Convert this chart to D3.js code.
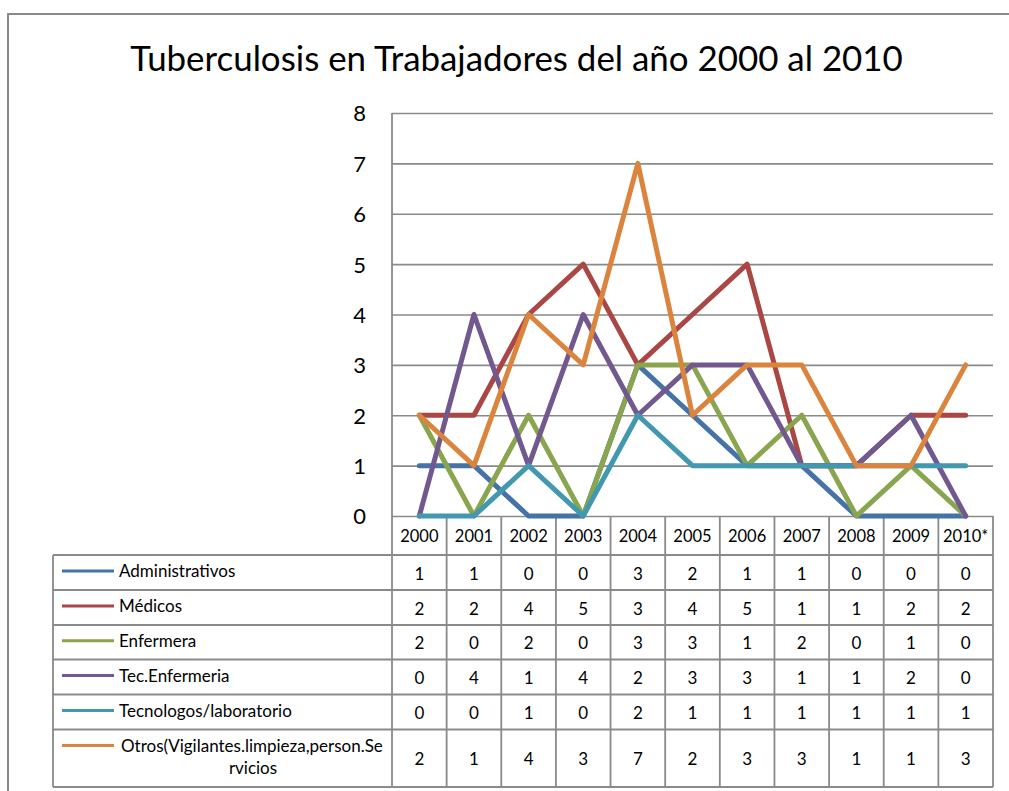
<!DOCTYPE html>
<html><head><meta charset="utf-8">
<script src="https://cdn.jsdelivr.net/npm/d3@7"></script>
<style>
body{margin:0;background:#fff;}
svg{display:block;font-family:Lato, "Open Sans", sans-serif;}
</style></head>
<body>
<svg id="chart" width="1009" height="791"></svg>
<script>
const title = "Tuberculosis en Trabajadores del año 2000 al 2010";
const years = ["2000","2001","2002","2003","2004","2005","2006","2007","2008","2009","2010*"];
const seriesNames = ["Administrativos","Médicos","Enfermera","Tec.Enfermeria","Tecnologos/laboratorio","Otros(Vigilantes.limpieza,person.Servicios"];
const administrativos = [1,1,0,0,3,2,1,1,0,0,0];
const medicos = [2,2,4,5,3,4,5,1,1,2,2];
const enfermera = [2,0,2,0,3,3,1,2,0,1,0];
const tecEnfermeria = [0,4,1,4,2,3,3,1,1,2,0];
const tecnologos = [0,0,1,0,2,1,1,1,1,1,1];
const otros = [2,1,4,3,7,2,3,3,1,1,3];
const yTicks = [0,1,2,3,4,5,6,7,8];
const colors = ["#4572A7","#AA4643","#89A54E","#71588F","#4198AF","#DB843D"];

const series = [administrativos, medicos, enfermera, tecEnfermeria, tecnologos, otros]
  .map((vals,i)=>({name:seriesNames[i], values:vals, color:colors[i]}));

const svg = d3.select("#chart");
const gray = "#8a8a8a";

// outer frame
svg.append("path").attr("d","M8,791 L8,14 L1009,14")
  .attr("fill","none").attr("stroke",gray).attr("stroke-width",2);

// title
const t = svg.append("text").attr("x",516.5).attr("y",71).attr("text-anchor","middle")
  .attr("font-size",34).attr("fill","#000").text(title);
const tw = t.node().getComputedTextLength();
t.attr("font-size", 34*773/tw);

const x = d3.scaleBand().domain(years).range([392,993]);
const y = d3.scaleLinear().domain([0,8]).range([516,113]);

// gridlines + y labels
const yAxis = d3.axisLeft(y).tickValues(yTicks).tickSize(-(993-392)).tickPadding(26).tickFormat(d3.format("d"));
const ga = svg.append("g").attr("transform","translate(392,0)").call(yAxis);
ga.select(".domain").remove();
ga.selectAll(".tick line").attr("stroke",gray).attr("stroke-width",1.6);
ga.selectAll(".tick text").attr("font-size",22).attr("fill","#000").attr("font-family","Lato, sans-serif").attr("dy","0.36em");
// vertical axis
svg.append("line").attr("x1",392).attr("x2",392).attr("y1",y(8)).attr("y2",516)
  .attr("stroke",gray).attr("stroke-width",1.8);

// table geometry
const tableLeft = 53, tableRight = 993;
const rowLines = [555, 590, 625, 659.5, 694.5, 729.5, 787];
const tbl = svg.append("g");
rowLines.forEach(yy=>{
  tbl.append("line").attr("x1",tableLeft).attr("x2",tableRight).attr("y1",yy).attr("y2",yy)
    .attr("stroke",gray).attr("stroke-width",1.8);
});
tbl.append("line").attr("x1",tableLeft).attr("x2",tableLeft).attr("y1",555).attr("y2",787)
  .attr("stroke",gray).attr("stroke-width",1.8);
years.forEach((yr,i)=>{
  const xx = x(yr);
  tbl.append("line").attr("x1",xx).attr("x2",xx).attr("y1",516).attr("y2",787)
    .attr("stroke",gray).attr("stroke-width",1.8);
});
tbl.append("line").attr("x1",tableRight).attr("x2",tableRight).attr("y1",516).attr("y2",787)
  .attr("stroke",gray).attr("stroke-width",1.8);

// header years
years.forEach(yr=>{
  tbl.append("text").attr("x",x(yr)+x.bandwidth()/2).attr("y",536).attr("dy","0.36em")
    .attr("text-anchor","middle").attr("font-size",16.5).attr("fill","#000").text(yr);
});

// rows
series.forEach((s,i)=>{
  const top = rowLines[i], bot = rowLines[i+1];
  const cy = (top+bot)/2;
  const labelY = i<5 ? cy-1.5 : top+16;
  tbl.append("line").attr("x1",62).attr("x2",114).attr("y1",labelY).attr("y2",labelY)
    .attr("stroke",s.color).attr("stroke-width",3);
  if(i<5){
    tbl.append("text").attr("x",119).attr("y",labelY).attr("dy","0.36em")
      .attr("font-size",17).attr("fill","#000").text(s.name);
  } else {
    const n = s.name;
    const l1 = n.slice(0,35), l2 = n.slice(35);
    tbl.append("text").attr("x",121).attr("y",labelY).attr("dy","0.36em")
      .attr("font-size",17).attr("fill","#000").text(l1);
    tbl.append("text").attr("x",253).attr("y",labelY+22).attr("dy","0.36em").attr("text-anchor","middle")
      .attr("font-size",17).attr("fill","#000").text(l2);
  }
  s.values.forEach((v,j)=>{
    tbl.append("text").attr("x",x(years[j])+x.bandwidth()/2).attr("y",cy+1).attr("dy","0.36em")
      .attr("text-anchor","middle").attr("font-size",17).attr("fill","#000").text(v);
  });
});

// lines
const line = d3.line().x((d,i)=>x(years[i])+x.bandwidth()/2).y(d=>y(d));
svg.append("g").selectAll("path").data(series).join("path")
  .attr("d",d=>line(d.values)).attr("fill","none").attr("stroke",d=>d.color)
  .attr("stroke-width",5).attr("stroke-linejoin","round").attr("stroke-linecap","round");
</script>
</body></html>
